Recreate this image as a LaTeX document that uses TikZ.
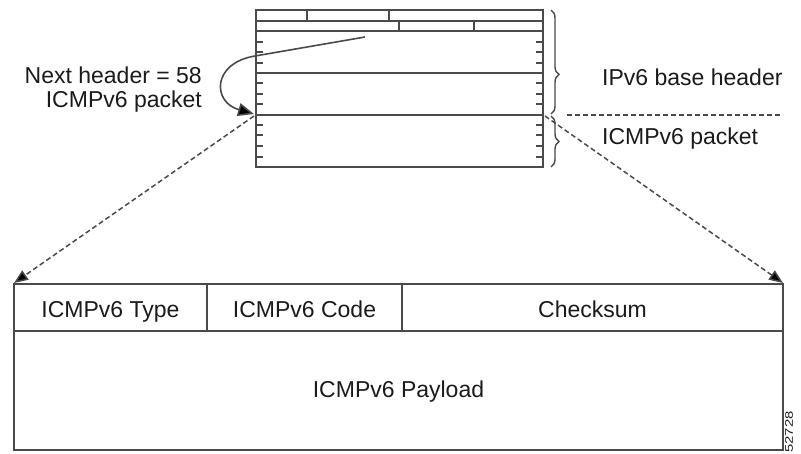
\documentclass[tikz,border=0pt]{standalone}
\usepackage{fontspec}
\setmainfont{Liberation Sans}
\usetikzlibrary{arrows.meta,decorations.pathreplacing}
\definecolor{ln}{HTML}{4A4A4A}
\definecolor{tx}{HTML}{1A1A1A}
\begin{document}
\begin{tikzpicture}[x=1pt,y=-1pt,
  boxline/.style={draw=ln,line width=1.7pt},
  tickline/.style={draw=ln,line width=1.6pt},
  lbl/.style={text=tx,font=\fontsize{23}{26}\selectfont,inner sep=0pt},
  dashconn/.style={draw=ln,line width=1.5pt,dash pattern=on 5pt off 3pt,-{Triangle[length=14pt,width=11pt,fill=black]}},
  bracestyle/.style={draw=ln,line width=1.4pt,decorate,decoration={brace,amplitude=8pt,aspect=#1}}]
\useasboundingbox (0,0) rectangle (801,453);
% IPv6 packet (top)
\draw[boxline] (256,10) rectangle (543,167);
\draw[boxline] (256,21) -- (543,21);
\draw[boxline] (256,31) -- (543,31);
\draw[boxline] (256,73) -- (543,73);
\draw[boxline] (256,115) -- (543,115);
\draw[boxline] (307,10) -- (307,21) (389,10) -- (389,21) (399,21) -- (399,31) (474,21) -- (474,31);
\foreach \y in {42,52,63,83,94,104,125,135,146,157} {
  \draw[tickline] (256,\y) -- (263,\y);
  \draw[tickline] (536,\y) -- (543,\y);
}
\coordinate (ptr) at (365,37);
\coordinate (hook) at (255,56);
\coordinate (ptrtip) at (254,114);
\coordinate (lefttap) at (254,116);
\coordinate (righttap) at (545,116);
\coordinate (dashstart) at (567,115);
\coordinate (dashend) at (783,115);
\draw[draw=ln,line width=1.6pt,-{Triangle[length=16pt,width=13pt,fill=black]}]
  (ptr) -- (hook) .. controls (212,63) and (212,102) .. (ptrtip);
% braces
\draw[bracestyle=0.62] (551,10) -- (551,114);
\draw[bracestyle=0.5] (551,116) -- (551,167);
\draw[draw=ln,line width=1.5pt,dash pattern=on 5pt off 3pt] (dashstart) -- (dashend);
% labels top
\node[lbl,anchor=base east] (nh1) at (202,83) {Next header = 58};
\node[lbl,anchor=base east] (nh2) at (202,107) {ICMPv6 packet};
\node[lbl,anchor=base west] (base) at (602,85) {IPv6 base header};
\node[lbl,anchor=base west] (icmp) at (602,144) {ICMPv6 packet};
% ICMPv6 packet (bottom)
\coordinate (bl) at (14,283);
\coordinate (br) at (783,283);
\draw[boxline] (14,284) rectangle (783,450);
\draw[boxline] (14,331) -- (783,331);
\draw[boxline] (207,284) -- (207,331) (402,284) -- (402,331);
\node[lbl,anchor=base] (type) at (110.5,317) {ICMPv6 Type};
\node[lbl,anchor=base] (code) at (304.5,317) {ICMPv6 Code};
\node[lbl,anchor=base] (sum) at (592.5,317) {Checksum};
\node[lbl,anchor=base] (pay) at (398.5,397) {ICMPv6 Payload};
\draw[dashconn] (lefttap) -- (bl);
\draw[dashconn] (righttap) -- (br);
\node[text=tx,font=\fontsize{11}{11}\selectfont,rotate=90,inner sep=0pt] (fig) at (789,432) {\scalebox{1.35}[1]{52728}};
\end{tikzpicture}
\end{document}
